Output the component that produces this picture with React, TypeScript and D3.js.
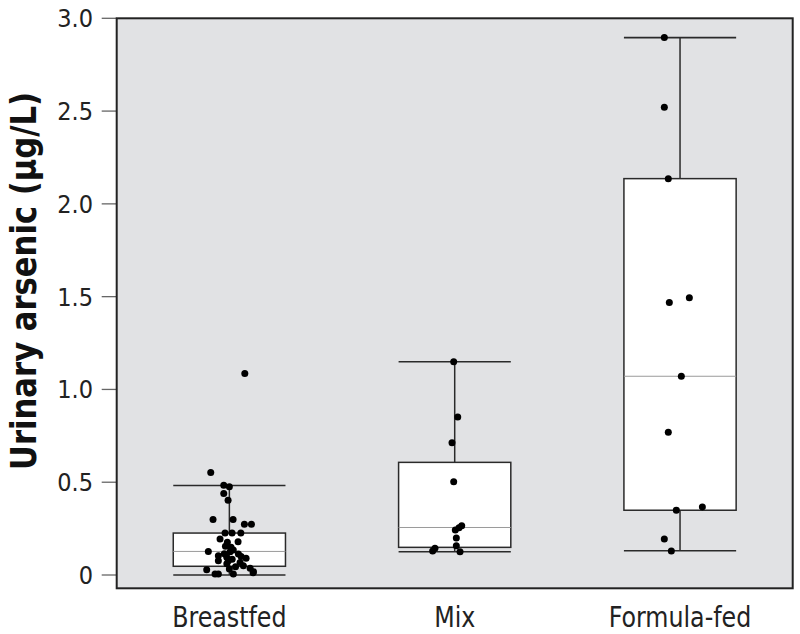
import React from "react";
import * as d3 from "d3";

const categories = ["Breastfed", "Mix", "Formula-fed"];
const whiskerLow = [0, 0.125, 0.131];
const q1 = [0.047, 0.149, 0.349];
const median = [0.127, 0.256, 1.071];
const q3 = [0.226, 0.607, 2.136];
const whiskerHigh = [0.482, 1.149, 2.896];

// observed values per group, and horizontal jitter (fraction of half box width)
const breastfedValues = [1.086, 0.552, 0.484, 0.475, 0.439, 0.403, 0.299, 0.299, 0.274, 0.274, 0.226, 0.226, 0.226, 0.194, 0.176, 0.179, 0.149, 0.127, 0.125, 0.113, 0.104, 0.095, 0.09, 0.077, 0.077, 0.068, 0.05, 0.036, 0.028, 0.032, 0.018, 0.005, 0.005, 0.005, 0.012, 0.155, 0.135, 0.115, 0.085, 0.06, 0.045, 0.1];
const breastfedJitter = [0.275, -0.332, -0.1, 0, -0.1, -0.023, -0.291, 0.066, 0.268, 0.393, -0.077, 0.048, 0.204, -0.166, -0.036, 0.155, 0.03, -0.375, 0.013, 0.161, -0.196, -0.046, 0.298, -0.196, -0.018, 0.191, 0.25, 0.37, -0.404, 0, 0.429, -0.255, -0.196, 0.071, 0.423, -0.07, 0.07, -0.09, 0.05, -0.045, 0.11, 0.21];
const mixValues = [1.149, 0.851, 0.713, 0.502, 0.265, 0.254, 0.242, 0.199, 0.158, 0.144, 0.129, 0.125];
const mixJitter = [-0.018, 0.054, -0.048, -0.018, 0.125, 0.077, 0.011, 0.029, 0.029, -0.352, -0.393, 0.095];
const formulaValues = [2.896, 2.52, 2.136, 1.494, 1.469, 1.071, 0.769, 0.367, 0.349, 0.194, 0.129];
const formulaJitter = [-0.28, -0.28, -0.209, 0.166, -0.191, 0.023, -0.209, 0.398, -0.066, -0.28, -0.155];

const groupValues = [breastfedValues, mixValues, formulaValues];
const groupJitter = [breastfedJitter, mixJitter, formulaJitter];

const yTicks = [0, 0.5, 1.0, 1.5, 2.0, 2.5, 3.0];
const yTitle = "Urinary arsenic (μg/L)";

const W = 800;
const H = 634;
const left = 116.7;
const right = 792.7;
const top = 18.3;
const bottom = 588.3;

const narrow = "'Liberation Sans Narrow', 'DejaVu Sans Condensed', 'Arial Narrow', sans-serif";

export default function App() {
  const x = d3.scaleBand<string>().domain(categories).range([left, right]).paddingInner(0).paddingOuter(0);
  const y = d3.scaleLinear().domain([0, 3]).range([575, top]);
  const half = x.bandwidth() * 0.249;
  const fmt = (v: number) => (v === 0 ? "0" : d3.format(".1f")(v));
  const ink = "#2a2a2a";

  return (
    <svg width={W} height={H} style={{ position: "absolute", left: 0, top: 0, background: "#fff" }}>
      <rect x={left} y={top} width={right - left} height={bottom - top} fill="#e1e2e4" />
      {yTicks.map((t) => (
        <g key={t}>
          <line x1={left - 15} x2={left} y1={y(t)} y2={y(t)} stroke="#666" strokeWidth={1.3} />
          <text x={93} y={y(t)} dy="0.36em" textAnchor="end" fontFamily={narrow} fontSize={25} fill="#222">
            {fmt(t)}
          </text>
        </g>
      ))}
      {categories.map((c, i) => {
        const cx = x(c)! + x.bandwidth() / 2;
        return (
          <g key={c}>
            <line x1={cx} x2={cx} y1={y(whiskerLow[i])} y2={y(whiskerHigh[i])} stroke={ink} strokeWidth={1.5} />
            <line x1={cx - half} x2={cx + half} y1={y(whiskerLow[i])} y2={y(whiskerLow[i])} stroke={ink} strokeWidth={1.6} />
            <line x1={cx - half} x2={cx + half} y1={y(whiskerHigh[i])} y2={y(whiskerHigh[i])} stroke={ink} strokeWidth={1.6} />
            <rect x={cx - half} y={y(q3[i])} width={half * 2} height={y(q1[i]) - y(q3[i])} fill="#fff" stroke={ink} strokeWidth={1.5} />
            <line x1={cx - half} x2={cx + half} y1={y(median[i])} y2={y(median[i])} stroke="#9a9a9a" strokeWidth={1} />
            {groupValues[i].map((v, j) => (
              <circle key={j} cx={cx + groupJitter[i][j] * half} cy={y(v)} r={3.5} fill="#000" />
            ))}
            <text
              transform={`translate(${cx}, 627) scale(0.91, 1)`}
              textAnchor="middle"
              fontFamily={narrow}
              fontSize={29}
              fill="#222"
            >
              {c}
            </text>
          </g>
        );
      })}
      <rect x={left} y={top} width={right - left} height={bottom - top} fill="none" stroke="#222" strokeWidth={2} />
      <text
        transform={`translate(36, ${281}) rotate(-90)`}
        textAnchor="middle"
        fontFamily={narrow}
        fontWeight="bold"
        fontSize={36}
        fill="#111"
        textLength={378}
        lengthAdjust="spacingAndGlyphs"
      >
        {yTitle}
      </text>
    </svg>
  );
}
